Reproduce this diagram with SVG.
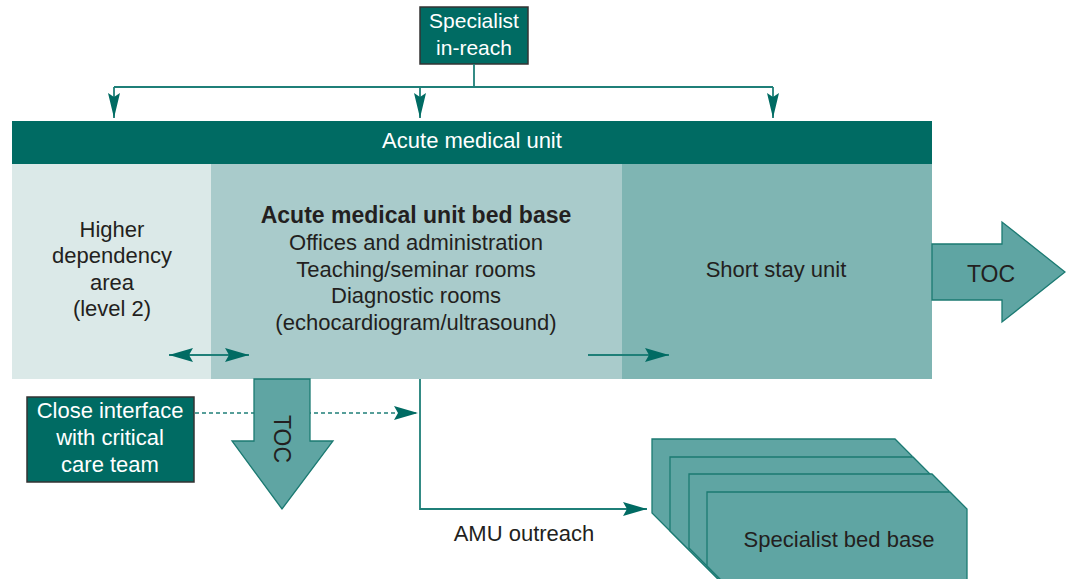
<svg xmlns="http://www.w3.org/2000/svg" width="1066" height="579" viewBox="0 0 1066 579">
<defs>
<style>
text{font-family:"Liberation Sans",Arial,sans-serif;font-size:22px;fill:#231f20;text-anchor:middle}
.w{fill:#ffffff}
.b{font-weight:bold;font-size:23px}
.dark{fill:#006b63;stroke:#333333;stroke-width:1.5}
.arr{fill:#5fa5a3;stroke:#1b7a72;stroke-width:1.3}
.ln{fill:none;stroke:#1f7f78;stroke-width:1.8}
.dash{fill:none;stroke:#1f7f78;stroke-width:1.6;stroke-dasharray:4 3}
</style>
<marker id="ah" viewBox="-26 -8 27 16" refX="0" refY="0" markerWidth="27" markerHeight="16" markerUnits="userSpaceOnUse" orient="auto-start-reverse">
<path d="M0,0 L-24,-7 L-20,0 L-24,7 Z" fill="#006b63"/>
</marker>
<marker id="ahs" viewBox="-26 -8 27 16" refX="0" refY="0" markerWidth="27" markerHeight="16" markerUnits="userSpaceOnUse" orient="auto">
<path d="M0,0 L-25,-6 L-21,0 L-25,6 Z" fill="#006b63"/>
</marker>
</defs>

<g id="amu">
<rect x="12" y="121" width="920" height="43" fill="#006b63"/>
<text class="w" x="472" y="148">Acute medical unit</text>
</g>

<g id="higher-dependency">
<rect x="12" y="164" width="199" height="215" fill="#dbe9e8"/>
<text x="112" y="237">Higher</text>
<text x="112" y="263">dependency</text>
<text x="112" y="290">area</text>
<text x="112" y="316">(level 2)</text>
</g>

<g id="bed-base">
<rect x="211" y="164" width="411" height="215" fill="#a9cbcb"/>
<text class="b" x="416" y="223">Acute medical unit bed base</text>
<text x="416" y="250">Offices and administration</text>
<text x="416" y="277">Teaching/seminar rooms</text>
<text x="416" y="303">Diagnostic rooms</text>
<text x="416" y="330">(echocardiogram/ultrasound)</text>
</g>

<g id="short-stay">
<rect x="622" y="164" width="310" height="215" fill="#7fb5b3"/>
<text x="776" y="277">Short stay unit</text>
</g>

<g id="specialist-inreach">
<rect class="dark" x="420" y="7" width="108" height="57"/>
<text class="w" x="474" y="28" style="font-size:21px">Specialist</text>
<text class="w" x="474" y="55" style="font-size:21px">in-reach</text>
</g>

<g id="specialist-bed-base">
<polygon class="arr" points="652,439 895,439 912,456 912,713 852,713 652,513"/>
<polygon class="arr" points="670,457 913,457 930,474 930,731 870,731 670,531"/>
<polygon class="arr" points="689,474 932,474 949,491 949,748 889,748 689,548"/>
<polygon class="arr" points="707,492 950,492 967,509 967,766 907,766 707,566"/>
<text x="839" y="547">Specialist bed base</text>
</g>

<g id="connectors">
<path class="ln" d="M474,64 V87"/>
<path class="ln" d="M114,87 H773"/>
<path class="ln" d="M114,87 V118" marker-end="url(#ahs)"/>
<path class="ln" d="M420,87 V118" marker-end="url(#ahs)"/>
<path class="ln" d="M773,87 V118" marker-end="url(#ahs)"/>
<path class="ln" d="M169,355 H249" marker-start="url(#ah)" marker-end="url(#ah)"/>
<path class="ln" d="M588,355 H669" marker-end="url(#ah)"/>
<path class="dash" d="M195,413 H418" marker-end="url(#ah)"/>
<path class="ln" d="M420,379 V509 H647" marker-end="url(#ah)"/>
<text x="524" y="541">AMU outreach</text>
</g>

<g id="toc-down">
<polygon class="arr" points="254,379 310,379 310,441 333,441 282,509 232,441 254,441"/>
<text transform="translate(274,439) rotate(90)" style="font-size:23px">TOC</text>
</g>

<g id="toc-right">
<polygon class="arr" points="932,244 1002,244 1002,222 1065,272 1002,322 1002,300 932,300"/>
<text x="991" y="282" style="font-size:23px">TOC</text>
</g>

<g id="critical-care">
<rect class="dark" x="27" y="397" width="167" height="85"/>
<text class="w" x="110" y="418">Close interface</text>
<text class="w" x="110" y="445">with critical</text>
<text class="w" x="110" y="472">care team</text>
</g>
</svg>
